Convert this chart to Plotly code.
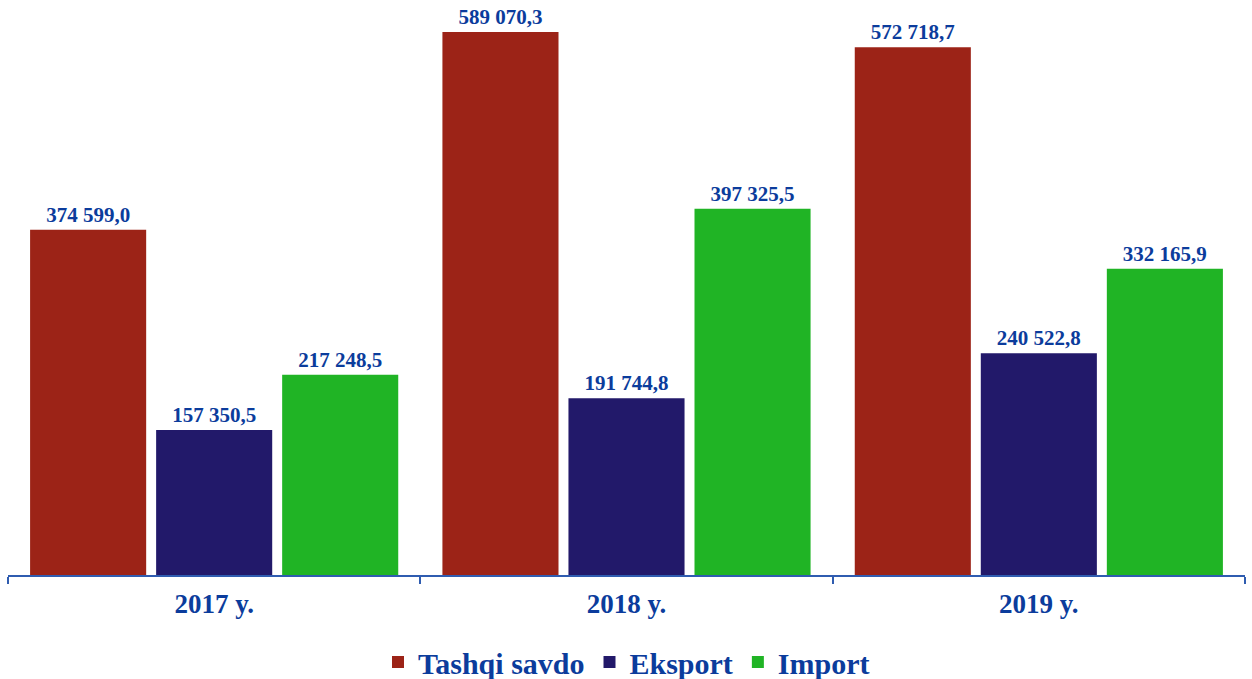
import plotly.graph_objects as go

years = ["2017 y.", "2018 y.", "2019 y."]
series_names = ["Tashqi savdo", "Eksport", "Import"]
tashqi = [374599.0, 589070.3, 572718.7]
eksport = [157350.5, 191744.8, 240522.8]
importv = [217248.5, 397325.5, 332165.9]
colors = ["#9C2317", "#22196A", "#20B425"]

def fmt(v):
    s = f"{v:,.1f}"
    return s.replace(",", " ").replace(".", ",")

fig = go.Figure()
for name, vals, col in zip(series_names, [tashqi, eksport, importv], colors):
    fig.add_trace(go.Bar(
        x=years, y=vals, name=name, marker_color=col, marker_line_width=0,
        text=[fmt(v) for v in vals], textposition="outside", cliponaxis=False,
        textfont=dict(family="Liberation Serif", size=21, color="#0B3C9C", weight="bold"),
    ))

fig.update_layout(
    width=1252, height=679,
    margin=dict(l=8, r=7, t=10, b=104, autoexpand=False),
    paper_bgcolor="white", plot_bgcolor="white",
    barmode="group", bargap=0.083, bargroupgap=0.079,
    font=dict(family="Liberation Serif", color="#0B3C9C"),
    xaxis=dict(showline=True, linecolor="#2F5CB0", linewidth=1.5, automargin=False,
               ticks="outside", ticklen=7, tickcolor="#2F5CB0", tickwidth=1.5,
               tickson="boundaries", ticklabelstandoff=4,
               tickfont=dict(family="Liberation Serif", size=27, color="#0B3C9C", weight="bold")),
    yaxis=dict(range=[0, 613000], visible=False, showgrid=False, automargin=False),
    showlegend=True,
    legend=dict(orientation="h", x=0.5, xanchor="center", y=-0.108, yanchor="top",
                font=dict(family="Liberation Serif", size=30, color="#0B3C9C", weight="bold"),
                traceorder="normal"),
)
fig.write_html("out.html", config={"displayModeBar": False},
               post_script="document.body.style.margin='0';")
